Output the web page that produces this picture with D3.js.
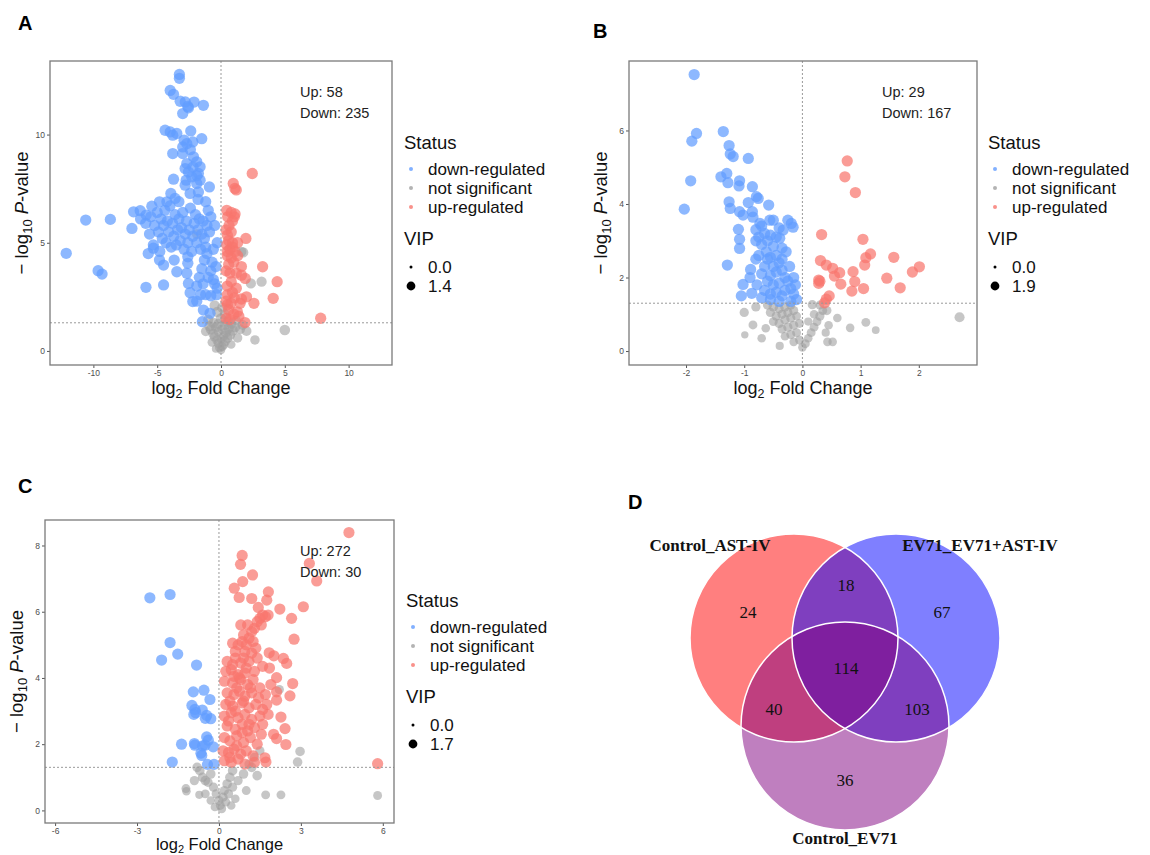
<!DOCTYPE html>
<html>
<head>
<meta charset="utf-8">
<script src="https://cdn.jsdelivr.net/npm/d3@7"></script>
<style>
  body { margin: 0; background: #fff; }
  text { font-family: "Liberation Sans", Arial, sans-serif; }
</style>
</head>
<body>
<div id="app"></div>
<script>
// ---- data ----
const statusLabels = ["down-regulated", "not significant", "up-regulated"];
const statusColors = ["#619CFF", "#a0a0a0", "#F8766D"];

// panel A : [log2FC, -log10 p]  (significant points)  /  [log2FC, -log10 p, VIP] (not significant)
const aDown = [[-3.26,12.78],[-3.26,12.6],[-3.98,12.04],[-3.72,11.86],[-3.2,11.54],[-2.8,11.51],[-2.55,11.24],[-3.0,10.97],[-2.11,11.5],[-1.38,11.35],[-2.6,11.3],
  [-4.38,10.2],[-3.98,10.12],[-3.78,9.97],[-3.46,10.05],[-2.37,10.17],[-2.89,9.74],[-2.68,9.58],[-3.0,9.43],[-2.21,9.66],[-1.51,9.81],[-3.78,9.12],[-3.0,9.12],[-2.16,8.97],[-2.4,9.3],
  [-2.68,8.66],[-1.9,8.74],[-1.64,8.51],[-2.81,8.43],[-2.55,8.27],[-1.77,8.2],[-2.29,8.04],[-3.72,7.94],[-2.73,7.89],[-1.64,7.89],[-2.81,7.66],[-1.9,7.74],[-0.91,7.58],[-2.42,7.28],[-1.77,7.35],[-2.2,8.5],[-1.9,8.1],
  [-10.6,6.05],[-8.67,6.08],[-6.98,5.66],[-12.13,4.51],[-9.63,3.71],[-9.32,3.55],[-5.88,2.94],[-4.5,3.05],
  [-6.85,6.43],[-6.33,6.48],[-5.86,6.28],[-5.42,6.69],[-4.82,6.89],[-4.24,6.89],[-3.93,7.28],[-3.6,7.05],[-3.3,6.9],
  [-6.3,6.1],[-5.9,5.9],[-5.5,6.2],[-5.2,5.8],[-5.0,6.4],[-4.9,5.5],[-4.7,6.1],[-4.6,5.2],[-4.5,5.8],[-4.4,6.5],[-4.3,5.0],[-4.2,6.0],[-4.1,5.5],[-4.0,6.7],[-3.9,4.8],[-3.8,5.9],[-3.7,5.3],[-3.6,6.3],[-3.5,4.9],[-3.4,5.6],[-3.3,6.1],[-3.2,5.1],[-3.1,5.7],[-3.0,6.4],[-2.9,4.7],[-2.8,5.4],[-2.7,6.0],[-2.6,5.0],[-2.5,5.6],[-2.4,6.6],[-2.3,4.6],[-2.2,5.3],[-2.1,5.9],[-2.0,6.3],[-1.9,5.0],[-1.8,5.6],[-1.7,6.1],[-1.6,4.7],[-1.5,5.4],[-1.4,6.0],[-1.3,5.2],[-1.2,4.8],[-1.1,5.8],[-1.0,6.5],[-0.8,6.2],[-0.9,5.5],
  [-5.6,5.4],[-5.3,4.9],[-4.8,4.6],[-5.7,4.5],[-5.3,4.75],[-4.82,4.2],[-4.5,3.97],[-3.67,4.2],[-3.46,3.66],[-2.6,4.35],[-2.6,4.05],[-2.68,3.59],[-2.55,3.12],[-2.42,2.69],[-2.21,2.28],[-1.9,2.3],
  [-1.6,2.6],[-1.2,2.6],[-0.8,2.55],[-0.35,2.6],[-1.38,1.89],[-0.86,1.74],[-1.46,1.35],
  [-1.0,3.4],[-0.8,3.7],[-0.6,3.3],[-0.7,4.1],[-0.4,3.9],[-1.3,4.2],[-1.5,3.8],[-1.7,3.4],[-1.1,4.5],[-0.6,4.7],[-0.3,5.0],[-0.5,5.8],[-1.2,6.9],[-1.8,7.0],[-0.5,3.1],[-0.3,2.9],[-1.9,3.0],[-1.4,3.1]];
const aUp = [[2.45,8.2],[0.96,7.74],[1.09,7.51],[1.2,7.44],[0.8,6.4],[1.04,6.2],[1.1,6.33],[0.52,6.2],[0.63,5.8],[0.5,5.35],[1.95,5.2],[0.45,4.9],[0.7,4.7],[0.9,4.8],[1.1,4.6],[0.5,4.4],[0.8,4.3],[1.3,4.4],[0.6,4.0],[1.0,4.1],[0.4,3.7],[1.6,3.9],[1.6,3.5],[1.9,3.35],[3.26,3.89],[4.4,3.2],[4.09,2.43],[2.58,2.2],[1.6,2.4],[1.04,2.45],[0.5,2.6],[0.5,2.13],[0.78,2.2],[1.28,1.81],[1.88,1.31],[7.81,1.51],[0.5,3.0],[0.8,3.2],[1.2,2.9],[0.7,3.6],[0.4,5.6],[0.9,5.0],[1.3,5.0],[0.6,5.1],[0.45,6.5],[0.9,6.0],[1.2,3.6],[0.9,2.7],[0.4,2.3],[1.5,2.2],[2.0,2.5],[0.6,1.9],[1.0,1.7],[0.4,1.5],[0.7,1.45],[1.4,1.6],[0.8,5.5],[0.5,4.6]];
const aNS = [[0.0,0.05,0.6],[-0.1,0.15,0.8],[0.1,0.2,0.7],[0.2,0.3,0.9],[-0.2,0.35,0.8],[0.3,0.45,1.0],[-0.3,0.5,0.9],[0.0,0.55,0.7],[0.5,0.6,1.0],[-0.5,0.65,0.9],[0.2,0.7,0.8],[0.7,0.75,1.1],[-0.6,0.8,1.0],[0.4,0.85,0.9],[-0.2,0.9,0.8],[0.9,0.95,1.1],[-0.8,1.0,1.0],[0.1,1.0,0.9],[0.6,1.05,1.0],[-0.4,1.1,0.9],[1.1,1.1,1.0],[-0.9,1.15,1.0],[0.3,1.2,0.9],[-0.2,1.25,1.0],[0.8,1.25,0.9],[-0.6,1.3,1.0],[0.5,1.35,0.9],[-1.0,1.45,1.0],[0.0,1.5,1.1],[0.3,1.7,1.0],[-0.3,1.8,1.0],[0.1,2.0,1.0],[-0.5,2.1,1.0],[1.3,0.6,0.8],[1.5,1.0,0.9],[1.2,1.4,0.8],[-1.2,0.9,0.8],[1.74,4.55,1.0],[2.34,3.12,1.0],[3.18,3.2,1.0],[5.0,0.97,1.1],[2.66,0.51,0.8],[2.0,0.92,0.9],[1.7,1.2,0.9],[-0.7,0.4,0.7],[0.8,0.3,0.6],[-0.4,0.1,0.5],[-1.9,5.4,0.9],[1.6,4.58,0.9]];

// panel B
const bDown = [[-1.86,7.52],[-1.9,5.71],[-1.82,5.92],[-1.92,4.63],[-2.03,3.86],[-1.36,5.97],[-1.26,5.59],[-1.24,5.36],[-1.19,5.29],[-0.93,5.24],[-1.4,4.74],[-1.3,4.83],[-1.28,4.58],[-1.08,4.63],[-1.09,4.49],[-0.86,4.47],[-1.26,4.06],[-1.24,3.88],[-0.93,4.04],[-0.79,4.2],[-0.76,4.15],[-0.58,3.97],[-1.08,3.79],[-1.02,3.7],[-0.86,3.79],[-0.85,3.64],[-1.1,3.31],[-1.08,3.04],[-1.08,2.79],[-1.29,2.34],[-1.02,1.81],[-1.05,1.5],[-0.87,1.57],[-0.89,2.22],[-0.25,3.56],[-0.19,3.47],[-0.16,3.37],[-0.33,3.29],[-0.39,3.07],[-0.56,3.56],[-0.5,3.56],[-0.73,3.47],
  [-0.8,3.3],[-0.75,3.1],[-0.7,3.4],[-0.65,3.2],[-0.6,3.0],[-0.7,2.9],[-0.8,3.0],[-0.55,3.15],[-0.5,2.85],[-0.45,3.1],[-0.62,2.7],[-0.75,2.6],[-0.55,2.55],[-0.45,2.6],[-0.4,2.4],[-0.35,2.5],[-0.5,2.3],[-0.65,2.3],[-0.7,2.1],[-0.55,2.05],[-0.45,2.15],[-0.35,2.2],[-0.3,2.0],[-0.6,1.9],[-0.5,1.8],[-0.4,1.85],[-0.25,1.9],[-0.2,1.7],[-0.65,1.65],[-0.55,1.55],[-0.45,1.6],[-0.35,1.5],[-0.3,1.65],[-0.15,1.55],[-0.1,1.4],[-0.2,1.35],[-0.4,1.35],[-0.55,1.4],[-0.7,1.45],[-0.15,2.0],[-0.12,1.8],[-0.28,2.7],[-0.35,2.8],[-0.6,2.5],[-0.8,2.5],[-0.9,2.0],[-0.78,1.8],[-0.4,3.35],[-0.22,2.3]];
const bUp = [[0.77,5.17],[0.73,4.74],[0.91,4.31],[0.33,3.17],[1.04,3.04],[0.31,2.46],[0.41,2.34],[0.52,2.25],[0.64,2.13],[0.55,2.04],[0.28,1.93],[0.28,1.84],[0.66,1.82],[0.87,2.16],[0.9,1.89],[0.85,1.63],[1.05,1.7],[1.09,2.54],[1.07,2.34],[1.17,2.64],[1.57,2.55],[1.45,1.98],[1.68,1.72],[1.89,2.15],[2.01,2.29],[0.46,1.5],[0.41,1.41],[0.38,1.31],[0.3,1.9]];
const bNS = [[-0.6,1.25,1.0],[-0.5,1.2,1.1],[-0.4,1.15,1.0],[-0.3,1.2,1.1],[-0.2,1.25,1.0],[-0.55,1.05,1.0],[-0.45,0.95,1.0],[-0.35,1.0,1.0],[-0.25,1.05,1.0],[-0.15,1.1,1.0],[-0.5,0.8,0.9],[-0.4,0.75,1.0],[-0.3,0.85,1.0],[-0.2,0.9,1.0],[-0.1,0.95,0.9],[-0.35,0.6,0.9],[-0.25,0.65,1.0],[-0.15,0.7,1.0],[-0.05,0.75,0.9],[-0.3,0.4,0.8],[-0.2,0.45,0.9],[-0.1,0.5,0.9],[-0.15,0.25,0.8],[-0.05,0.3,0.9],[0.0,0.1,0.8],[0.05,0.2,0.9],[0.1,0.35,0.8],[0.15,0.5,0.9],[0.2,0.65,0.9],[0.25,0.8,0.9],[0.3,0.95,1.0],[0.35,1.1,0.9],[0.1,0.8,0.7],[0.2,1.0,0.8],[0.45,0.7,0.8],[0.4,0.5,0.7],[0.17,1.26,1.0],[0.42,1.1,1.0],[0.3,1.25,0.9],
  [2.7,0.92,1.3],[1.09,0.78,0.9],[1.26,0.57,0.6],[0.82,0.63,0.8],[-1.0,1.05,1.0],[-0.85,0.71,0.9],[-0.99,0.44,0.5],[-0.63,0.62,0.8],[-0.39,0.14,0.7],[0.52,0.25,0.8],[0.43,0.25,0.8],[-0.7,0.35,0.8],[-0.8,1.2,1.0],[0.6,0.9,0.8]];

// panel C
const cDown = [[-2.53,6.42],[-1.79,6.52],[-1.79,5.07],[-1.51,4.72],[-2.1,4.54],[-0.82,4.39],[-0.94,3.58],[-0.55,3.63],[-0.33,3.35],[-0.99,3.17],[-0.88,3.05],[-0.92,2.9],[-0.61,3.03],[-0.45,2.87],[-0.3,2.77],[-0.45,2.22],[-0.39,2.12],[-1.37,2.0],[-0.88,1.97],[-0.9,2.02],[-0.51,1.97],[-0.21,1.92],[-0.63,1.66],[-0.66,1.73],[-1.71,1.46],[-0.42,1.39],[-0.18,1.39],[-0.5,2.78],[-0.85,2.95],[-0.6,1.95]];
const cUp = [[4.76,8.39],[0.85,7.7],[0.79,7.43],[3.31,7.46],[3.58,6.93],[1.23,7.11],[0.87,6.91],[0.56,6.71],[0.74,6.43],[1.2,6.4],[1.81,6.6],[1.75,6.35],[1.44,6.13],[2.23,6.08],[3.09,6.15],[2.66,5.8],[2.75,5.17],[1.84,4.76],[2.01,4.67],[2.36,4.59],[2.48,4.44],[2.11,4.01],[2.7,3.83],[2.11,3.58],[2.11,3.33],[2.6,3.46],[2.27,2.82],[2.42,2.47],[2.11,2.17],[2.45,1.99],[1.68,1.59],[1.72,1.46],[5.81,1.41],
  [1.6,5.9],[1.5,5.8],[1.4,5.7],[1.3,5.5],[1.55,5.6],[1.7,5.85],[1.2,5.4],[1.1,5.2],[1.0,5.0],[1.25,5.1],[0.9,5.3],[0.8,5.6],[0.95,4.8],[1.35,4.9],[0.7,5.0],[0.6,4.6],[1.8,5.9],[1.05,5.6],
  [0.3,4.5],[0.5,4.4],[0.9,4.6],[1.1,4.5],[1.4,4.6],
  [0.25,4.2],[0.45,4.25],[0.7,4.1],[1.0,4.3],[1.3,4.2],[1.6,4.35],
  [0.2,3.9],[0.5,3.85],[0.8,3.95],[1.05,3.8],[1.25,3.95],[1.5,3.7],
  [0.3,3.55],[0.55,3.5],[0.75,3.6],[0.95,3.45],[1.2,3.55],[1.45,3.4],[1.7,3.5],
  [0.25,3.2],[0.5,3.15],[0.85,3.25],[1.1,3.1],[1.35,3.2],[1.6,3.05],
  [0.2,2.85],[0.45,2.95],[0.7,2.8],[0.95,2.9],[1.2,2.75],[1.5,2.85],[1.8,2.9],
  [0.3,2.55],[0.6,2.45],[0.85,2.6],[1.05,2.4],[1.3,2.5],[1.55,2.3],
  [0.2,2.2],[0.4,2.1],[0.65,2.25],[0.9,2.05],[1.15,2.2],[1.4,2.0],
  [0.15,1.8],[0.35,1.75],[0.55,1.85],[0.8,1.7],[1.0,1.8],[1.25,1.65],
  [0.2,1.5],[0.45,1.45],[0.7,1.55],[0.95,1.4],[1.3,1.45],
  [0.6,3.0],[0.65,3.7],[0.75,4.0],[0.85,2.35],[0.65,1.95],[0.9,3.3],[0.4,3.3],[0.35,2.7],[0.55,4.05],[1.15,3.7],[1.1,2.6],[0.95,4.15],[0.8,4.45],[0.6,4.8],[0.5,5.05],[0.85,5.1],[1.2,4.75],[0.4,1.6],[1.6,2.6],[1.75,3.2],[1.9,3.8],[1.85,4.3],[2.0,2.3]];
const cNS = [[2.97,1.78,1.0],[2.88,1.46,1.0],[2.21,3.65,0.9],[5.81,0.45,0.8],[1.71,0.47,0.8],[2.27,0.47,0.8],[-1.21,0.66,0.8],[-1.19,0.58,0.7],[-0.72,0.47,0.6],[-0.8,1.3,1.0],[-0.7,1.2,1.0],[-0.6,1.0,1.0],[-0.5,0.9,1.0],[-0.4,0.85,0.9],[-0.3,1.1,1.0],[-0.2,0.7,0.9],[-0.1,0.5,0.9],[0.0,0.3,0.9],[0.05,0.15,0.8],[0.1,0.05,0.8],[0.15,0.4,0.9],[0.2,0.6,0.9],[0.3,0.8,1.0],[0.4,1.0,1.0],[0.5,1.2,1.0],[0.35,0.5,0.9],[0.25,0.25,0.8],[0.5,0.7,0.9],[0.7,0.9,0.9],[0.9,1.1,1.0],[1.2,1.3,1.0],[1.4,1.05,1.0],[1.0,0.6,0.8],[1.3,1.6,0.9],[1.5,1.8,0.9],[-0.3,0.3,0.7],[-0.5,0.5,0.8],[0.6,0.35,0.7],[-0.15,0.1,0.7],[0.45,0.15,0.7],[-0.9,0.9,0.9],[1.1,1.4,0.9]];

const upDown = { A: [58, 235], B: [29, 167], C: [272, 30] };
const vipLegend = { A: [0.0, 1.4], B: [0.0, 1.9], C: [0.0, 1.7] };
const sigVip = { A: 1.3, B: 1.75, C: 1.55 };

const xTicksA = [-10, -5, 0, 5, 10], yTicksA = [0, 5, 10];
const xTicksB = [-2, -1, 0, 1, 2],   yTicksB = [0, 2, 4, 6];
const xTicksC = [-6, -3, 0, 3, 6],   yTicksC = [0, 2, 4, 6, 8];

// Venn
const vennSets = ["Control_AST-IV", "EV71_EV71+AST-IV", "Control_EV71"];
const vennColors = ["#ff0000", "#0000ff", "#800080"];
const vennCounts = [24, 18, 67, 114, 40, 103, 36];

// ---- drawing ----
const svg = d3.select("#app").append("svg")
  .attr("width", 1150)
  .attr("height", 855);

function volcano(p) {
  const g = svg.append("g");
  const x = d3.scaleLinear().domain(p.xDomain).range([p.left, p.right]);
  const y = d3.scaleLinear().domain(p.yDomain).range([p.bottom, p.top]);
  const r = d3.scaleSqrt().domain([0, p.vip[1]]).range([1.5, 5.8]);

  const clipId = "clip" + p.key;
  g.append("clipPath").attr("id", clipId).append("rect")
    .attr("x", p.left).attr("y", p.top)
    .attr("width", p.right - p.left).attr("height", p.bottom - p.top);

  const pts = g.append("g").attr("clip-path", `url(#${clipId})`);
  const groups = [
    { data: p.ns.map(d => ({ fc: d[0], lp: d[1], vip: d[2] })), color: statusColors[1], op: 0.6 },
    { data: p.down.map(d => ({ fc: d[0], lp: d[1], vip: p.sig })), color: statusColors[0], op: 0.72 },
    { data: p.up.map(d => ({ fc: d[0], lp: d[1], vip: p.sig })), color: statusColors[2], op: 0.72 }
  ];
  groups.forEach(gr => {
    pts.selectAll(null)
      .data(gr.data)
      .enter()
      .append("circle")
      .attr("cx", d => x(d.fc))
      .attr("cy", d => y(d.lp))
      .attr("r", d => r(d.vip))
      .style("fill", gr.color)
      .style("fill-opacity", gr.op);
  });

  // threshold lines
  g.append("line")
    .attr("x1", x(0)).attr("x2", x(0)).attr("y1", p.top).attr("y2", p.bottom)
    .attr("stroke", "#9a9a9a").attr("stroke-width", 1).attr("stroke-dasharray", "2,2");
  g.append("line")
    .attr("x1", p.left).attr("x2", p.right)
    .attr("y1", y(-Math.log10(0.05))).attr("y2", y(-Math.log10(0.05)))
    .attr("stroke", "#9a9a9a").attr("stroke-width", 1).attr("stroke-dasharray", "2,2");

  // axes
  const xa = g.append("g").attr("transform", `translate(0,${p.bottom})`)
    .call(d3.axisBottom(x).tickValues(p.xTicks).tickFormat(d => d).tickSize(3).tickPadding(1.5));
  const ya = g.append("g").attr("transform", `translate(${p.left},0)`)
    .call(d3.axisLeft(y).tickValues(p.yTicks).tickFormat(d => d).tickSize(3).tickPadding(2));
  [xa, ya].forEach(a => {
    a.select(".domain").remove();
    a.selectAll("line").attr("stroke", "#555");
    a.selectAll("text").attr("fill", "#4d4d4d").style("font-size", "8.5px")
      .style("font-family", "'Liberation Sans', Arial, sans-serif");
  });

  // panel frame
  g.append("rect")
    .attr("x", p.left).attr("y", p.top)
    .attr("width", p.right - p.left).attr("height", p.bottom - p.top)
    .attr("fill", "none").attr("stroke", "#7a7a7a").attr("stroke-width", 1.3);

  // axis titles
  const xt = g.append("text")
    .attr("x", (p.left + p.right) / 2).attr("y", p.xTitleY)
    .attr("text-anchor", "middle").style("font-size", p.xTitleSize).attr("fill", "#111");
  xt.append("tspan").text("log");
  xt.append("tspan").text("2").style("font-size", p.subSize).attr("dy", p.subDy);
  xt.append("tspan").text(" Fold Change").attr("dy", -p.subDy);

  const cy = (p.top + p.bottom) / 2;
  const yt = g.append("text")
    .attr("transform", `translate(${p.left - 22},${cy}) rotate(-90)`)
    .attr("text-anchor", "middle").style("font-size", "18.5px").attr("fill", "#111");
  yt.append("tspan").text("\u2212 log");
  yt.append("tspan").text("10").style("font-size", "13px").attr("dy", 4);
  yt.append("tspan").text(" ").attr("dy", -4);
  yt.append("tspan").text("P").style("font-style", "italic");
  yt.append("tspan").text("-value");

  // up / down counts
  g.append("text").attr("x", p.noteX).attr("y", p.top + 36)
    .style("font-size", "14.5px").attr("fill", "#222").text("Up: " + p.counts[0]);
  g.append("text").attr("x", p.noteX).attr("y", p.top + 57)
    .style("font-size", "14.5px").attr("fill", "#222").text("Down: " + p.counts[1]);

  // legend
  const L = g.append("g").attr("transform", `translate(${p.legX},${p.legY})`);
  L.append("text").attr("x", 0).attr("y", 7).style("font-size", "18.5px").attr("fill", "#111").text("Status");
  statusLabels.forEach((s, i) => {
    L.append("circle").attr("cx", 7).attr("cy", 27 + i * 19).attr("r", 2)
      .style("fill", statusColors[i]).style("fill-opacity", 0.8);
    L.append("text").attr("x", 24).attr("y", 33 + i * 19)
      .style("font-size", "17px").attr("fill", "#111").text(s);
  });
  L.append("text").attr("x", 0).attr("y", 103).style("font-size", "18.5px").attr("fill", "#111").text("VIP");
  p.vip.forEach((v, i) => {
    L.append("circle").attr("cx", 7).attr("cy", 125 + i * 19).attr("r", i === 0 ? 1.5 : 4.4)
      .style("fill", "#000");
    L.append("text").attr("x", 24).attr("y", 131 + i * 19)
      .style("font-size", "17px").attr("fill", "#111").text(v.toFixed(1));
  });
}

volcano({ key: "A", left: 50, right: 392, top: 61, bottom: 365,
  xDomain: [-13.4, 13.4], yDomain: [-0.65, 13.4], xTicks: xTicksA, yTicks: yTicksA,
  down: aDown, up: aUp, ns: aNS, sig: sigVip.A, vip: vipLegend.A, counts: upDown.A,
  noteX: 300, legX: 404, legY: 142, xTitleY: 394, xTitleSize: "18px", subSize: "12.5px", subDy: 4 });
volcano({ key: "B", left: 629, right: 977, top: 61, bottom: 365,
  xDomain: [-2.98, 3.0], yDomain: [-0.38, 7.89], xTicks: xTicksB, yTicks: yTicksB,
  down: bDown, up: bUp, ns: bNS, sig: sigVip.B, vip: vipLegend.B, counts: upDown.B,
  noteX: 882, legX: 988, legY: 142, xTitleY: 394, xTitleSize: "18px", subSize: "12.5px", subDy: 4 });
volcano({ key: "C", left: 45, right: 394, top: 520, bottom: 823,
  xDomain: [-6.37, 6.41], yDomain: [-0.38, 8.77], xTicks: xTicksC, yTicks: yTicksC,
  down: cDown, up: cUp, ns: cNS, sig: sigVip.C, vip: vipLegend.C, counts: upDown.C,
  noteX: 300, legX: 406, legY: 600, xTitleY: 850, xTitleSize: "16.5px", subSize: "11px", subDy: 2.5 });

// Venn diagram (panel D)
const venn = svg.append("g");
const circles = [{ cx: 794, cy: 638, r: 104 }, { cx: 896, cy: 638, r: 104 }, { cx: 845, cy: 726, r: 104 }];
circles.forEach((c, i) => {
  venn.append("circle").attr("cx", c.cx).attr("cy", c.cy).attr("r", c.r)
    .style("fill", vennColors[i]).style("fill-opacity", 0.5);
});
circles.forEach(c => {
  venn.append("circle").attr("cx", c.cx).attr("cy", c.cy).attr("r", c.r)
    .style("fill", "none").style("stroke", "#fff").style("stroke-width", 1.5);
});
const setPos = [[710, 551], [980, 551], [845, 844]];
vennSets.forEach((s, i) => {
  venn.append("text").attr("x", setPos[i][0]).attr("y", setPos[i][1])
    .attr("text-anchor", "middle")
    .style("font-family", "'Liberation Serif', 'Times New Roman', serif")
    .style("font-weight", "bold").style("font-size", "17px").attr("fill", "#111").text(s);
});
const regionPos = [[748, 618], [846, 591], [942, 618], [846, 674], [774, 715], [917, 715], [845, 786]];
vennCounts.forEach((n, i) => {
  venn.append("text").attr("x", regionPos[i][0]).attr("y", regionPos[i][1])
    .attr("text-anchor", "middle")
    .style("font-family", "'Liberation Serif', 'Times New Roman', serif")
    .style("font-size", "17px").attr("fill", "#111").text(n);
});

// panel letters
[["A", 18, 30], ["B", 593, 38], ["C", 18, 493], ["D", 628, 509]].forEach(l => {
  svg.append("text").attr("x", l[1]).attr("y", l[2])
    .style("font-size", "20px").style("font-weight", "bold").attr("fill", "#000").text(l[0]);
});
</script>
</body>
</html>
